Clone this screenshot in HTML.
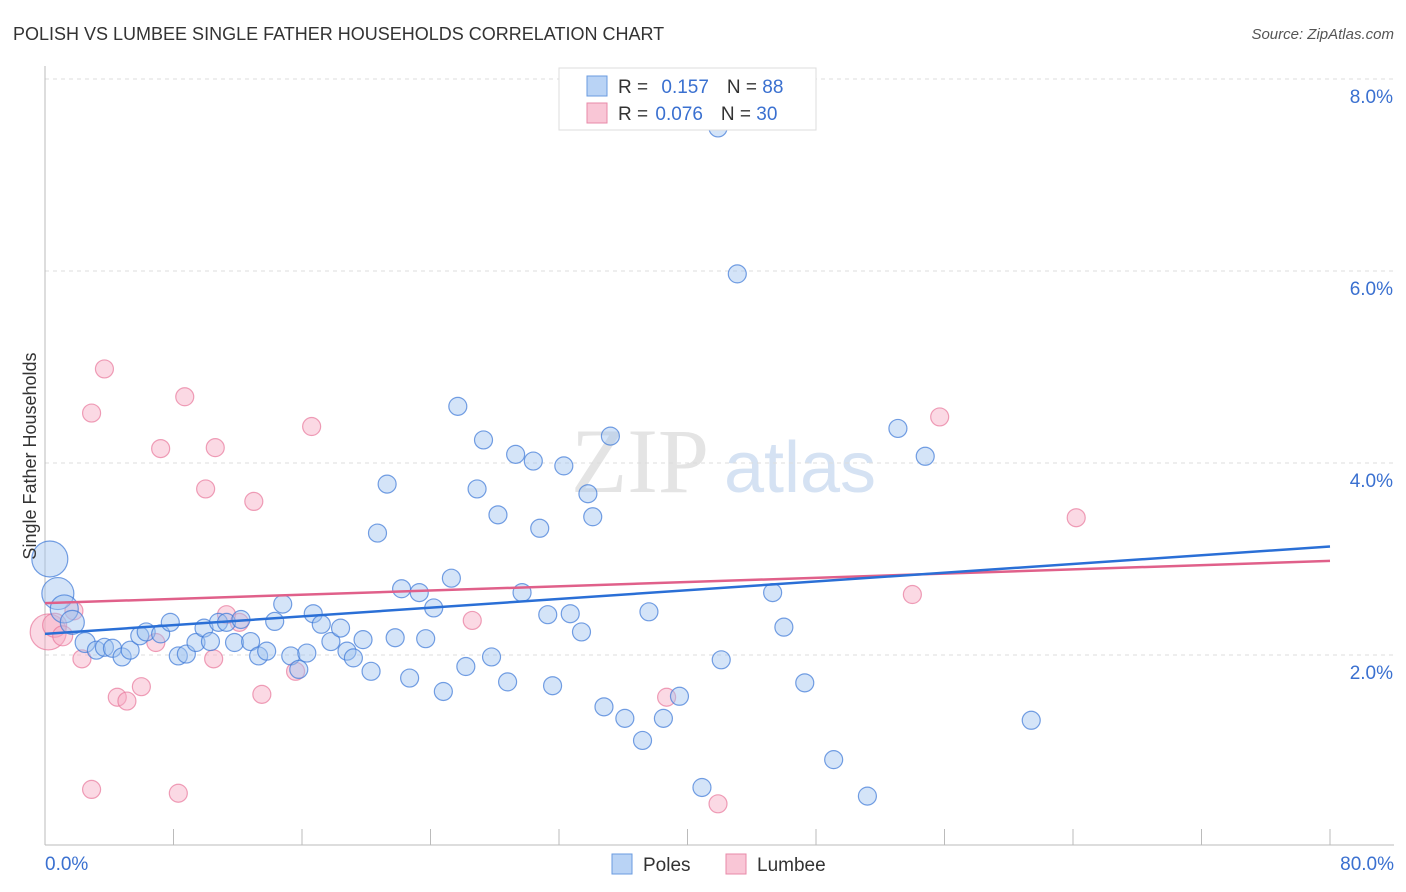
<!DOCTYPE html>
<html><head><meta charset="utf-8"><style>
body{margin:0;background:#fff;font-family:"Liberation Sans",sans-serif}
svg{display:block}
</style></head><body>
<svg id="chart" width="1406" height="892">
<text x="13" y="40" font-size="18" fill="#333">POLISH VS LUMBEE SINGLE FATHER HOUSEHOLDS CORRELATION CHART</text>
<text x="1394" y="39" font-size="15" fill="#555" text-anchor="end" font-style="italic">Source: ZipAtlas.com</text>
<text x="640" y="492" font-size="92" fill="#e4e4e4" font-family="Liberation Serif,serif" text-anchor="middle">ZIP</text>
<text x="800" y="492" font-size="72" fill="#d5e2f3" text-anchor="middle">atlas</text>
<g id="grid"></g>
<g id="axes"></g>
<g id="marks"></g>
<text x="36" y="456" font-size="18" fill="#333" text-anchor="middle" transform="rotate(-90 36 456)">Single Father Households</text>
<g>
<rect x="559" y="68" width="257" height="62" fill="#fff" stroke="#ddd"/>
<rect x="587" y="76" width="20" height="20" fill="#b9d3f5" stroke="#6a9be0"/>
<rect x="587" y="103" width="20" height="20" fill="#f9c6d6" stroke="#e88aa8"/>
<text x="618" y="93" font-size="19" fill="#333">R = <tspan fill="#3a70d0" dx="8">0.157</tspan><tspan dx="18" fill="#333">N = </tspan><tspan fill="#3a70d0">88</tspan></text>
<text x="618" y="120" font-size="19" fill="#333">R = <tspan fill="#3a70d0" dx="2">0.076</tspan><tspan dx="18" fill="#333">N = </tspan><tspan fill="#3a70d0">30</tspan></text>
</g>
<g>
<rect x="612" y="854" width="20" height="20" fill="#b9d3f5" stroke="#6a9be0"/>
<text x="643" y="871" font-size="19" fill="#333">Poles</text>
<rect x="726" y="854" width="20" height="20" fill="#f9c6d6" stroke="#e88aa8"/>
<text x="757" y="871" font-size="19" fill="#333">Lumbee</text>
</g>
</svg>
<script>
const yTicks=[2,4,6,8];
const yTickLabels=["2.0%","4.0%","6.0%","8.0%"];
const xTickLabels=["0.0%","80.0%"];
const polesX=[0.3,0.8,1.2,1.7,2.5,3.2,3.7,4.2,4.8,5.3,5.9,6.3,7.2,7.8,8.3,8.8,9.4,9.9,10.3,10.8,11.3,11.8,12.2,12.8,13.3,13.8,14.3,14.8,15.3,15.8,16.3,16.7,17.2,17.8,18.4,18.8,19.2,19.8,20.3,20.7,21.3,21.8,22.2,22.7,23.3,23.7,24.2,24.8,25.3,25.7,26.2,26.9,27.3,27.8,28.2,28.8,29.3,29.7,30.4,30.8,31.3,31.6,32.3,32.7,33.4,33.8,34.1,35.2,34.8,36.1,37.2,37.6,38.5,39.5,40.9,41.9,42.1,43.1,45.3,46.0,47.3,49.1,51.2,53.1,54.8,61.4];
const polesY=[3.0,2.64,2.48,2.34,2.13,2.05,2.08,2.07,1.98,2.05,2.2,2.24,2.22,2.34,1.99,2.01,2.13,2.28,2.14,2.34,2.34,2.13,2.37,2.14,1.99,2.04,2.35,2.53,1.99,1.85,2.02,2.43,2.32,2.14,2.28,2.04,1.97,2.16,1.83,3.27,3.78,2.18,2.69,1.76,2.65,2.17,2.49,1.62,2.8,4.59,1.88,3.73,4.24,1.98,3.46,1.72,4.09,2.65,4.02,3.32,2.42,1.68,3.97,2.43,2.24,3.68,3.44,4.28,1.46,1.34,1.11,2.45,1.34,1.57,0.62,7.49,1.95,5.97,2.65,2.29,1.71,0.91,0.53,4.36,4.07,1.32];
const polesR=[18,16,14,12,10,9,9,9,9,9];
const lumbeeX=[0.2,0.6,1.1,1.8,2.3,2.9,3.7,4.5,5.1,6.0,6.9,7.2,8.3,8.7,10.0,10.5,10.6,11.3,12.1,13.0,13.5,15.6,16.6,26.6,38.7,41.9,54.0,55.7,64.2,2.9];
const lumbeeY=[2.24,2.31,2.2,2.46,1.96,4.52,4.98,1.56,1.52,1.67,2.13,4.15,0.56,4.69,3.73,1.96,4.16,2.42,2.34,3.6,1.59,1.83,4.38,2.36,1.56,0.45,2.63,4.48,3.43,0.6];
const lumbeeR=[18,12,10,9,9,9,9,9,9,9];
const polesTrend=[2.22,3.13];
const lumbeeTrend=[2.54,2.98];
const ns="http://www.w3.org/2000/svg";
const X0=45,X1=1330,Y0=847,PY=96;
function sx(v){return X0+(v/80)*(X1-X0);}
function sy(v){return Y0-v*PY;}
function mk(tag,attrs,parent){const e=document.createElementNS(ns,tag);for(const k in attrs)e.setAttribute(k,attrs[k]);parent.appendChild(e);return e;}
const grid=document.getElementById('grid'),axes=document.getElementById('axes'),marks=document.getElementById('marks');
yTicks.forEach((t,i)=>{
 const l=mk('line',{x1:45,x2:1394,y1:sy(t),y2:sy(t),stroke:'#ddd','stroke-dasharray':'4,4'},grid);
 
 
 const tx=mk('text',{x:1393,y:sy(t)+24,'font-size':19,fill:'#3a70d0','text-anchor':'end'},axes);
 tx.textContent=yTickLabels[i];
 
 
});
const ya=mk('line',{x1:45,x2:45,y1:66,y2:845,stroke:'#bbb'},axes);


const xa=mk('line',{x1:45,x2:1394,y1:845,y2:845,stroke:'#bbb'},axes);


for(let i=0;i<=10;i++){
 const t=mk('line',{x1:sx(i*8),x2:sx(i*8),y1:829,y2:845,stroke:'#bbb'},axes);
 
 
}
const xl0=mk('text',{x:45,y:870,'font-size':19,fill:'#3a70d0'},axes);xl0.textContent=xTickLabels[0];


const xl1=mk('text',{x:1394,y:870,'font-size':19,fill:'#3a70d0','text-anchor':'end'},axes);xl1.textContent=xTickLabels[1];


lumbeeX.forEach((x,i)=>{
 const c=mk('circle',{cx:sx(x),cy:sy(lumbeeY[i]),r:lumbeeR[i]||9,fill:'rgba(246,170,195,0.45)',stroke:'rgba(232,120,155,0.7)','stroke-width':1.2},marks);
 
 
});
polesX.forEach((x,i)=>{
 const c=mk('circle',{cx:sx(x),cy:sy(polesY[i]),r:polesR[i]||9,fill:'rgba(160,195,240,0.45)',stroke:'rgba(60,120,215,0.7)','stroke-width':1.2},marks);
 
 
});
const lt=mk('line',{x1:sx(0),y1:sy(lumbeeTrend[0]),x2:sx(80),y2:sy(lumbeeTrend[1]),stroke:'#e0608a','stroke-width':2.5},marks);


const pt=mk('line',{x1:sx(0),y1:sy(polesTrend[0]),x2:sx(80),y2:sy(polesTrend[1]),stroke:'#2a6fd6','stroke-width':2.5},marks);


</script>
</body></html>
